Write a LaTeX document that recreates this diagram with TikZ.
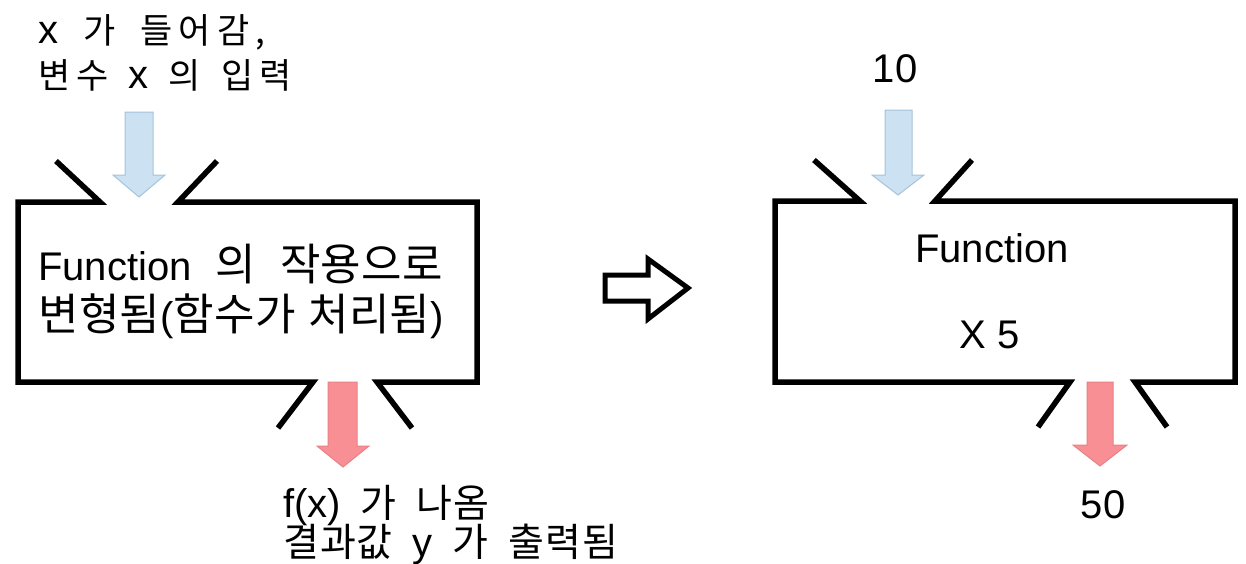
\documentclass[tikz,border=0pt]{standalone}
\usepackage{fontspec}
\setmainfont{Liberation Sans}
\newfontfamily\krA[LetterSpace=18]{Noto Sans CJK KR}
\newfontfamily\krB[LetterSpace=1]{Noto Sans CJK KR}
\newfontfamily\krC[LetterSpace=2.5]{Noto Sans CJK KR}
\newcommand\KA[1]{{\fontsize{35}{36}\krA #1}}
\newcommand\KB[1]{{\fontsize{44}{46}\krB #1}}
\newcommand\KC[1]{{\fontsize{39}{40}\krC #1}}
\definecolor{bluefill}{RGB}{204,226,242}
\definecolor{bluedraw}{RGB}{165,195,218}
\definecolor{redfill}{RGB}{247,143,148}
\definecolor{reddraw}{RGB}{232,128,133}
\tikzset{
  boxline/.style={line width=5.5pt, line join=miter, line cap=butt},
  txt/.style={inner sep=0pt, anchor=base west, font=\fontsize{40}{42}\selectfont},
  num/.style={inner sep=0pt, anchor=base, font=\fontsize{40}{42}\selectfont},
  inarrow/.style={fill=bluefill, draw=bluedraw, line width=1pt},
  outarrow/.style={fill=redfill, draw=reddraw, line width=1pt},
  hollow/.style={draw=black, fill=white, line width=5pt, line join=miter}
}
\begin{document}
\begin{tikzpicture}[x=1pt,y=-1pt]
\useasboundingbox (0,0) rectangle (1246,563);
\fill[white] (0,0) rectangle (1246,563);

% left box
\draw[boxline] (56,161) -- (100,202) -- (18,202) -- (18,382) -- (313,382) -- (278,428);
\draw[boxline] (217,161) -- (178,202) -- (477,202) -- (477,382) -- (377,382) -- (412,428);

% right box
\draw[boxline] (814,160) -- (860,201) -- (775,201) -- (775,382) -- (1070,382) -- (1038,427);
\draw[boxline] (972,160) -- (935,201) -- (1235,201) -- (1235,382) -- (1135,382) -- (1167,427);

% input arrows
\draw[inarrow] (125,112) -- (153,112) -- (153,175) -- (165,175) -- (139,197) -- (113,175) -- (125,175) -- cycle;
\draw[inarrow] (885,110) -- (912,110) -- (912,175) -- (924,175) -- (898,195) -- (872,175) -- (885,175) -- cycle;

% output arrows
\draw[outarrow] (328,382) -- (357,382) -- (357,446) -- (369,446) -- (343,467) -- (317,446) -- (328,446) -- cycle;
\draw[outarrow] (1087,382) -- (1113,382) -- (1113,445) -- (1127,445) -- (1100,466) -- (1073,445) -- (1087,445) -- cycle;

% hollow arrow
\draw[hollow] (605,275) -- (648,275) -- (648,259) -- (688,288) -- (648,319) -- (648,301) -- (605,301) -- cycle;

% texts left
\node[txt] (in1) at (38,43) {\spaceskip=25pt x \KA{가 들어감,}};
\node[txt] (in2) at (38,88) {\spaceskip=20pt \KA{변수} x \KA{의 입력}};
\node[txt] (f1) at (38,280) {\spaceskip=24pt Function \KB{의 작용으로}};
\node[txt] (f2) at (38,330) {\spaceskip=12pt \KB{변형됨}(\KB{함수가 처리됨})};
\node[txt] (out1) at (283,517) {\spaceskip=20pt f(x) \KC{가 나옴}};
\node[txt] (out2) at (283,556) {\spaceskip=20pt \KC{결과값} y \KC{가 출력됨}};

% texts right
\node[num] (ten) at (895,82) {10};
\node[num] (fn) at (992,262) {Function};
\node[num] (x5) at (990,348) {X 5};
\node[num] (fifty) at (1103,518) {50};
\end{tikzpicture}
\end{document}
